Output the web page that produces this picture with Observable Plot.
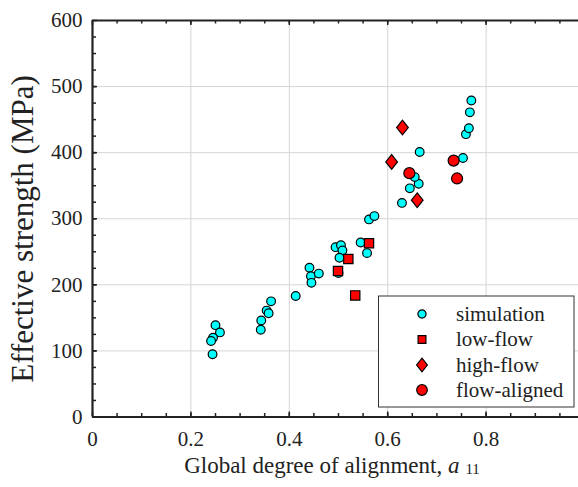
<!DOCTYPE html>
<html><head><meta charset="utf-8">
<script src="https://cdn.jsdelivr.net/npm/d3@7"></script>
<script src="https://cdn.jsdelivr.net/npm/@observablehq/plot@0.6"></script>
<style>body{margin:0;background:#fff} svg text{font-family:'Liberation Serif','Times New Roman',serif !important;}</style>
</head><body><div id="chart"></div>
<script>
// ---- data ----
const simX = [0.250,0.259,0.245,0.241,0.244,0.363,0.354,0.358,0.343,0.342,0.413,0.441,0.444,0.460,0.445,0.494,0.505,0.508,0.502,0.500,0.545,0.558,0.562,0.573,0.629,0.645,0.663,0.655,0.665,0.753,0.759,0.765,0.767,0.770];
const simY = [139,128,120,115,95,175,161,157,146,132,183,226,213,217,203,257,260,252,241,218,264,248,299,304,324,346,353,363,401,392,428,437,461,479];
const lowX = [0.499,0.520,0.534,0.562];
const lowY = [221,239,184,263];
const highX = [0.608,0.630,0.660];
const highY = [386,438,328];
const alignedX = [0.644,0.734,0.741];
const alignedY = [369,388,361];
const legendLabels = ["simulation","low-flow","high-flow","flow-aligned"];
const xMajor = [0,0.2,0.4,0.6,0.8];
const xTickLabels = ["0","0.2","0.4","0.6","0.8"];
const yMajor = [0,100,200,300,400,500,600];
const yTickLabels = ["0","100","200","300","400","500","600"];
const xMinor = d3.range(0.05,0.96,0.05);
const yMinor = d3.range(25,600,25);

// ---- layout ----
const W=578,H=487,mL=92,mR=0,mT=20,mB=70.5;
const fw=W-mL-mR, fh=H-mT-mB;
const xMax = 486/492;
const ink="#222";
const font="'Liberation Serif', 'Times New Roman', serif";

const diamondSym = {draw(ctx,size){const r=Math.sqrt(size/Math.PI);const hw=r*1.17,hh=r*1.47;ctx.moveTo(0,-hh);ctx.lineTo(hw,0);ctx.lineTo(0,hh);ctx.lineTo(-hw,0);ctx.closePath();}};
const pts=(xs,ys)=>xs.map((x,i)=>({x,y:ys[i]}));

const svg = Plot.plot({
  width:W,height:H,marginLeft:mL,marginRight:mR,marginTop:mT,marginBottom:mB,
  style:{fontFamily:font,background:"#fff",color:ink},
  x:{domain:[0,xMax]},
  y:{domain:[0,600]},
  marks:[
    Plot.gridX(xMajor.slice(1),{stroke:"#d6d6d6",strokeOpacity:1,strokeWidth:1}),
    Plot.gridY(yMajor.slice(1,-1),{stroke:"#d6d6d6",strokeOpacity:1,strokeWidth:1}),
    Plot.axisX(xMajor,{tickSize:0,tickPadding:14,tickFormat:d=>xTickLabels[xMajor.indexOf(d)],fontSize:21,fontFamily:font,fontVariant:"normal",label:null,fill:ink}),
    Plot.axisY(yMajor,{tickSize:0,tickPadding:10,tickFormat:d=>yTickLabels[yMajor.indexOf(d)],fontSize:21,fontFamily:font,fontVariant:"normal",label:null,fill:ink}),
    // inward ticks
    Plot.ruleX(xMajor,{stroke:ink,strokeWidth:1.5,insetTop:fh-5}),
    Plot.ruleX(xMinor,{stroke:ink,strokeWidth:1.5,insetTop:fh-3.5}),
    Plot.ruleX(xMajor,{stroke:ink,strokeWidth:1.5,insetBottom:fh-5}),
    Plot.ruleX(xMinor,{stroke:ink,strokeWidth:1.5,insetBottom:fh-3.5}),
    Plot.ruleY(yMajor,{stroke:ink,strokeWidth:1.5,insetRight:fw-5}),
    Plot.ruleY(yMinor,{stroke:ink,strokeWidth:1.5,insetRight:fw-4}),
    // spines
    Plot.ruleX([0],{stroke:ink,strokeWidth:2.2}),
    Plot.ruleY([0,600],{stroke:ink,strokeWidth:2.2}),
    // data
    Plot.dot(pts(simX,simY),{x:"x",y:"y",r:4.35,fill:"#00ffff",stroke:"#000",strokeWidth:1.2}),
    Plot.dot(pts(lowX,lowY),{x:"x",y:"y",r:5.25,symbol:"square",fill:"#ff0000",stroke:"#000",strokeWidth:1.2}),
    Plot.dot(pts(highX,highY),{x:"x",y:"y",r:5,symbol:diamondSym,fill:"#ff0000",stroke:"#000",strokeWidth:1.2}),
    Plot.dot(pts(alignedX,alignedY),{x:"x",y:"y",r:5.5,fill:"#ff0000",stroke:"#000",strokeWidth:1.2})
  ]
});
document.getElementById("chart").appendChild(svg);

const s = d3.select(svg);
// axis titles
const xl = s.append("text").attr("x",332).attr("y",473).attr("text-anchor","middle")
  .attr("font-family",font).attr("font-size",23).attr("fill",ink);
xl.append("tspan").text("Global degree of alignment, ");
xl.append("tspan").attr("font-style","italic").text("a");
xl.append("tspan").attr("font-size",15).attr("dx",6).attr("dy",1).text("11");
s.append("text").attr("transform","translate(33,229) rotate(-90)").attr("text-anchor","middle")
  .attr("font-family",font).attr("font-size",31).attr("fill",ink).text("Effective strength (MPa)");

// legend
const lg = s.append("g");
lg.append("rect").attr("x",378.5).attr("y",296).attr("width",195.5).attr("height",111)
  .attr("fill","#fff").attr("stroke","#333").attr("stroke-width",1);
const rows=[314,339.5,365,390];
const syms=[
  {type:d3.symbolCircle,r:4.1,fill:"#00ffff"},
  {type:d3.symbolSquare,r:4.4,fill:"#ff0000"},
  {type:diamondSym,r:4.6,fill:"#ff0000"},
  {type:d3.symbolCircle,r:5.3,fill:"#ff0000"}
];
legendLabels.forEach((lab,i)=>{
  lg.append("path").attr("transform",`translate(422,${rows[i]})`)
    .attr("d",d3.symbol().type(syms[i].type).size(Math.PI*syms[i].r*syms[i].r)())
    .attr("fill",syms[i].fill).attr("stroke","#000").attr("stroke-width",1.2);
  lg.append("text").attr("x",456).attr("y",rows[i]+6.5).attr("text-anchor","start").attr("font-family",font)
    .attr("font-size",21).attr("fill",ink).text(lab);
});
</script></body></html>
